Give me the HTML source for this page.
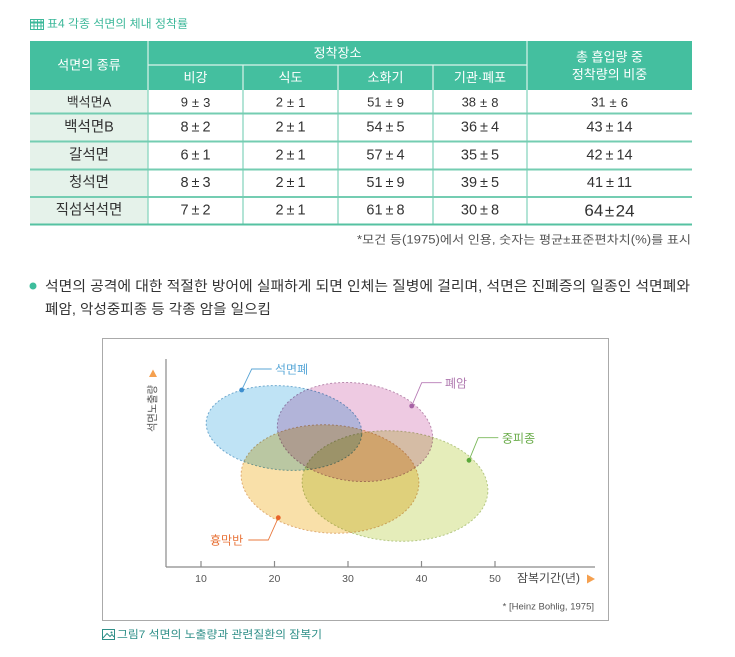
<!DOCTYPE html>
<html>
<head>
<meta charset="utf-8">
<style>
  html,body{margin:0;padding:0;background:#fff;}
  body{width:735px;height:657px;overflow:hidden;}
  svg{display:block;}
  text{font-family:"Liberation Sans","Noto Sans CJK KR",sans-serif;}
  .el{mix-blend-mode:multiply;}
</style>
</head>
<body>
<svg width="735" height="657" viewBox="0 0 735 657" xmlns="http://www.w3.org/2000/svg">
  <!-- Title -->
  <g stroke="#3db89a" fill="none" stroke-width="1">
    <rect x="30.5" y="19.5" width="13" height="10"/>
    <line x1="30.5" y1="22.5" x2="43.5" y2="22.5" stroke-width="2"/>
    <line x1="30.5" y1="26" x2="43.5" y2="26"/>
    <line x1="34" y1="19.5" x2="34" y2="29.5"/>
    <line x1="37.5" y1="19.5" x2="37.5" y2="29.5"/>
    <line x1="41" y1="19.5" x2="41" y2="29.5"/>
  </g>
  <text x="47" y="24.5" font-size="11.5" fill="#3db89a" dominant-baseline="central" textLength="141" lengthAdjust="spacingAndGlyphs">표4 각종 석면의 체내 정착률</text>

  <!-- Table header -->
  <rect x="30" y="41" width="662" height="49" fill="#44bf9f"/>
  <g stroke="#d9f3ea" stroke-width="1.2">
    <line x1="148" y1="41" x2="148" y2="90"/>
    <line x1="527" y1="41" x2="527" y2="90"/>
    <line x1="148" y1="65" x2="527" y2="65"/>
    <line x1="243" y1="65" x2="243" y2="90"/>
    <line x1="338" y1="65" x2="338" y2="90"/>
    <line x1="433" y1="65" x2="433" y2="90"/>
  </g>
  <g fill="#ffffff" font-size="13" text-anchor="middle" dominant-baseline="central">
    <text x="89" y="65">석면의 종류</text>
    <text x="337.5" y="53">정착장소</text>
    <text x="195.5" y="77.5">비강</text>
    <text x="290.5" y="77.5">식도</text>
    <text x="385.5" y="77.5">소화기</text>
    <text x="480" y="77.5">기관·폐포</text>
    <text x="609.5" y="57">총 흡입량 중</text>
    <text x="609.5" y="74.5">정착량의 비중</text>
  </g>

  <!-- Table body -->
  <rect x="30" y="90" width="118" height="134" fill="#e5f2ea"/>
  <g stroke="#8ad6bf" stroke-width="1.3">
    <line x1="148" y1="90" x2="148" y2="224"/>
    <line x1="243" y1="90" x2="243" y2="224"/>
    <line x1="338" y1="90" x2="338" y2="224"/>
    <line x1="433" y1="90" x2="433" y2="224"/>
    <line x1="527" y1="90" x2="527" y2="224"/>
  </g>
  <g stroke="#74cdb2" stroke-width="2">
    <line x1="30" y1="113.5" x2="692" y2="113.5"/>
    <line x1="30" y1="141.5" x2="692" y2="141.5"/>
    <line x1="30" y1="169.5" x2="692" y2="169.5"/>
    <line x1="30" y1="197" x2="692" y2="197"/>
  </g>
  <line x1="30" y1="224.5" x2="692" y2="224.5" stroke="#55c2a2" stroke-width="2"/>

  <g fill="#333" text-anchor="middle" dominant-baseline="central">
    <!-- row 1 -->
    <g font-size="13">
      <text x="89" y="102">백석면A</text>
      <text x="195.5" y="102">9<tspan dx="4">±</tspan><tspan dx="4">3</tspan></text>
      <text x="290.5" y="102">2<tspan dx="4">±</tspan><tspan dx="4">1</tspan></text>
      <text x="385.5" y="102">51<tspan dx="4">±</tspan><tspan dx="4">9</tspan></text>
      <text x="480" y="102">38<tspan dx="4">±</tspan><tspan dx="4">8</tspan></text>
      <text x="609.5" y="102">31<tspan dx="4">±</tspan><tspan dx="4">6</tspan></text>
    </g>
    <g font-size="14.5">
      <!-- row 2 -->
      <text x="89" y="127.5">백석면B</text>
      <text x="195.5" y="127.5">8<tspan dx="3">±</tspan><tspan dx="3">2</tspan></text>
      <text x="290.5" y="127.5">2<tspan dx="3">±</tspan><tspan dx="3">1</tspan></text>
      <text x="385.5" y="127.5">54<tspan dx="3">±</tspan><tspan dx="3">5</tspan></text>
      <text x="480" y="127.5">36<tspan dx="3">±</tspan><tspan dx="3">4</tspan></text>
      <text x="609.5" y="127.5">43<tspan dx="3">±</tspan><tspan dx="3">14</tspan></text>
      <!-- row 3 -->
      <text x="89" y="155.5">갈석면</text>
      <text x="195.5" y="155.5">6<tspan dx="3">±</tspan><tspan dx="3">1</tspan></text>
      <text x="290.5" y="155.5">2<tspan dx="3">±</tspan><tspan dx="3">1</tspan></text>
      <text x="385.5" y="155.5">57<tspan dx="3">±</tspan><tspan dx="3">4</tspan></text>
      <text x="480" y="155.5">35<tspan dx="3">±</tspan><tspan dx="3">5</tspan></text>
      <text x="609.5" y="155.5">42<tspan dx="3">±</tspan><tspan dx="3">14</tspan></text>
      <!-- row 4 -->
      <text x="89" y="183">청석면</text>
      <text x="195.5" y="183">8<tspan dx="3">±</tspan><tspan dx="3">3</tspan></text>
      <text x="290.5" y="183">2<tspan dx="3">±</tspan><tspan dx="3">1</tspan></text>
      <text x="385.5" y="183">51<tspan dx="3">±</tspan><tspan dx="3">9</tspan></text>
      <text x="480" y="183">39<tspan dx="3">±</tspan><tspan dx="3">5</tspan></text>
      <text x="609.5" y="183">41<tspan dx="3">±</tspan><tspan dx="3">11</tspan></text>
      <!-- row 5 -->
      <text x="89" y="210.5">직섬석석면</text>
      <text x="195.5" y="210.5">7<tspan dx="3">±</tspan><tspan dx="3">2</tspan></text>
      <text x="290.5" y="210.5">2<tspan dx="3">±</tspan><tspan dx="3">1</tspan></text>
      <text x="385.5" y="210.5">61<tspan dx="3">±</tspan><tspan dx="3">8</tspan></text>
      <text x="480" y="210.5">30<tspan dx="3">±</tspan><tspan dx="3">8</tspan></text>
    </g>
    <text x="609.5" y="210.5" font-size="17">64<tspan dx="1.5">±</tspan><tspan dx="1.5">24</tspan></text>
  </g>

  <!-- Footnote -->
  <text x="691" y="240.5" font-size="11.5" fill="#555" text-anchor="end" dominant-baseline="central" textLength="334" lengthAdjust="spacingAndGlyphs">*모건 등(1975)에서 인용, 숫자는 평균±표준편차치(%)를 표시</text>

  <!-- Bullet text -->
  <circle cx="33" cy="286" r="3.5" fill="#3dbd9c"/>
  <text x="45" y="286" font-size="14" fill="#333" dominant-baseline="central" textLength="645" lengthAdjust="spacingAndGlyphs">석면의 공격에 대한 적절한 방어에 실패하게 되면 인체는 질병에 걸리며, 석면은 진폐증의 일종인 석면폐와</text>
  <text x="45" y="309" font-size="14" fill="#333" dominant-baseline="central" textLength="226" lengthAdjust="spacingAndGlyphs">폐암, 악성중피종 등 각종 암을 일으킴</text>

  <!-- Chart box -->
  <rect x="102.5" y="338.5" width="506" height="282" fill="#fff" stroke="#aaa" stroke-width="1"/>

  <!-- Ellipses -->
  <g stroke-width="1" stroke-dasharray="2 2">
    <ellipse class="el" cx="284" cy="428" rx="78" ry="42" transform="rotate(5 284 428)" fill="#bfe3f5" stroke="#6fa9cf"/>
    <ellipse class="el" cx="355" cy="432" rx="78" ry="49" transform="rotate(7 355 432)" fill="#eecae2" stroke="#b98aae"/>
    <ellipse class="el" cx="330" cy="479" rx="89" ry="54" transform="rotate(4 330 479)" fill="#f9e0a9" stroke="#e0ac74"/>
    <ellipse class="el" cx="395" cy="486" rx="93" ry="55" transform="rotate(4 395 486)" fill="#e5edba" stroke="#b5c884"/>
  </g>

  <!-- Leaders & labels -->
  <g fill="none" stroke-width="0.9">
    <polyline points="241.7,390 251.7,369 271.7,369" stroke="#5aa5d5"/>
    <polyline points="411.7,406 421.7,382.7 441.7,382.7" stroke="#b77bb5"/>
    <polyline points="469,460.3 478.3,437.7 498.3,437.7" stroke="#7ab85a"/>
    <polyline points="278.3,517.7 268.3,540 248.3,540" stroke="#e8783e"/>
  </g>
  <circle cx="241.7" cy="390" r="2.4" fill="#3e8fcf"/>
  <circle cx="411.7" cy="406" r="2.4" fill="#a663a6"/>
  <circle cx="469" cy="460.3" r="2.4" fill="#5aa83a"/>
  <circle cx="278.3" cy="517.7" r="2.4" fill="#e8632a"/>
  <g font-size="12" dominant-baseline="central">
    <text x="275" y="369.5" fill="#5aa8d8">석면폐</text>
    <text x="445" y="383.5" fill="#b07ab0">폐암</text>
    <text x="502" y="438.5" fill="#6aac4a">중피종</text>
    <text x="210" y="540.5" fill="#e8743a">흉막반</text>
  </g>

  <!-- Axes -->
  <g stroke="#8a8a8a" stroke-width="1.2">
    <line x1="166" y1="359" x2="166" y2="567"/>
    <line x1="166" y1="567" x2="595" y2="567"/>
    <line x1="201" y1="561" x2="201" y2="567"/>
    <line x1="274.5" y1="561" x2="274.5" y2="567"/>
    <line x1="348" y1="561" x2="348" y2="567"/>
    <line x1="421.5" y1="561" x2="421.5" y2="567"/>
    <line x1="495" y1="561" x2="495" y2="567"/>
  </g>
  <g font-size="10.5" fill="#555" text-anchor="middle" dominant-baseline="central">
    <text x="201" y="579">10</text>
    <text x="274.5" y="579">20</text>
    <text x="348" y="579">30</text>
    <text x="421.5" y="579">40</text>
    <text x="495" y="579">50</text>
  </g>
  <text x="517" y="579" font-size="11.5" fill="#444" dominant-baseline="central" textLength="63" lengthAdjust="spacingAndGlyphs">잠복기간(년)</text>
  <polygon points="587,574.5 595,579 587,583.5" fill="#f5a04f"/>

  <polygon points="149,377 157,377 153,369.5" fill="#f5a04f"/>
  <text x="153" y="408.5" font-size="11" fill="#555" text-anchor="middle" dominant-baseline="central" transform="rotate(-90 153 408.5)" textLength="47" lengthAdjust="spacingAndGlyphs">석면노출량</text>

  <text x="594" y="607" font-size="9.5" fill="#555" text-anchor="end" dominant-baseline="central">* [Heinz Bohlig, 1975]</text>

  <!-- Caption -->
  <g stroke="#2f8f88" fill="none" stroke-width="1">
    <rect x="102.5" y="629.5" width="12" height="10"/>
    <polyline points="103,638 107,633.5 110,636.5 112,634.5 114,637"/>
  </g>
  <circle cx="111.5" cy="632.5" r="1" fill="#2f8f88"/>
  <text x="117" y="635" font-size="11" fill="#2f8f88" dominant-baseline="central" textLength="205" lengthAdjust="spacingAndGlyphs">그림7 석면의 노출량과 관련질환의 잠복기</text>
</svg>
</body>
</html>
